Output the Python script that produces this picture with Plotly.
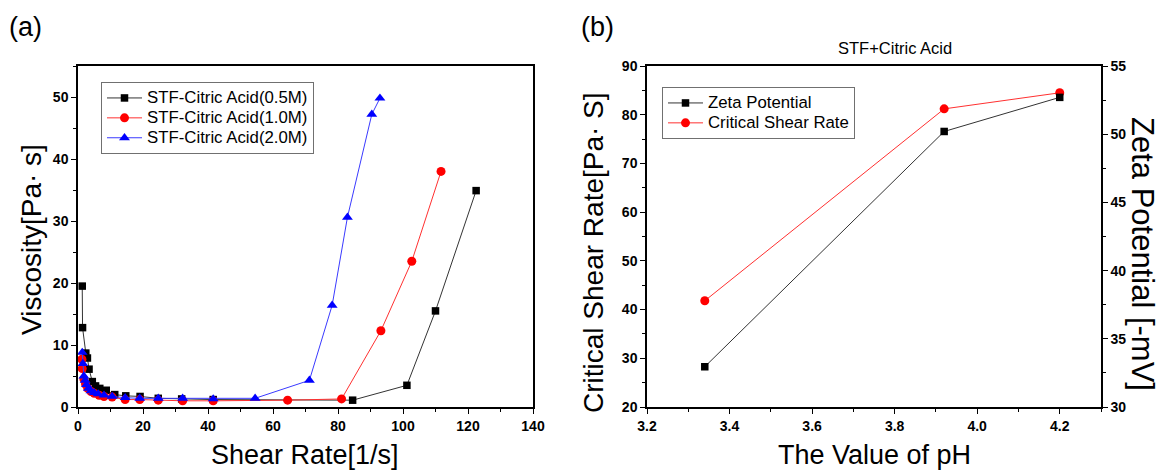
import plotly.graph_objects as go

W, H = 1165, 472

# ---- Panel (a): viscosity vs shear rate ----
rate_05 = [1.3, 1.4, 2.4, 2.9, 3.4, 4.4, 5.4, 6.7, 8.7, 11.3, 14.7, 19.1, 24.7, 31.9, 41.6,
           84.5, 101.2, 110.0, 122.5]
visc_05 = [19.5, 12.8, 8.7, 7.9, 6.1, 4.1, 3.4, 3.0, 2.7, 2.0, 1.8, 1.7, 1.4, 1.3, 1.2,
           1.1, 3.5, 15.5, 34.9]

rate_10 = [1.2, 1.3, 1.8, 2.3, 3.0, 4.0, 5.0, 6.5, 8.0, 10.5, 14.5, 19.0, 24.7, 32.2, 41.6,
           64.5, 81.1, 93.2, 102.7, 111.7]
visc_10 = [7.7, 6.2, 4.5, 3.7, 3.0, 2.5, 2.2, 1.9, 1.7, 1.6, 1.2, 1.2, 1.1, 1.0, 1.0,
           1.1, 1.3, 12.3, 23.5, 38.0]

rate_20 = [1.3, 1.5, 1.8, 2.2, 2.6, 3.2, 4.0, 5.0, 6.2, 8.0, 10.5, 14.5, 19.0, 24.7, 32.2,
           41.6, 54.5, 71.2, 78.2, 82.9, 90.4, 92.9]
visc_20 = [8.8, 7.0, 5.0, 4.3, 3.6, 3.0, 2.6, 2.3, 2.1, 1.9, 1.7, 1.5, 1.4, 1.4, 1.4,
           1.3, 1.4, 4.3, 16.4, 30.6, 47.2, 49.8]

# ---- Panel (b): pH dependence ----
ph = [3.34, 3.92, 4.20]
zeta_potential = [32.95, 50.2, 52.7]
critical_rate = [41.8, 81.2, 84.5]

# ---- tick positions / labels ----
shear_ticks = [0, 20, 40, 60, 80, 100, 120, 140]
visc_ticks = [0, 10, 20, 30, 40, 50]
ph_ticks = [3.2, 3.4, 3.6, 3.8, 4.0, 4.2]
ph_tick_labels = ["3.2", "3.4", "3.6", "3.8", "4.0", "4.2"]
rate_ticks = [20, 30, 40, 50, 60, 70, 80, 90]
zeta_ticks = [30, 35, 40, 45, 50, 55]

FONT = "Liberation Sans, Arial, sans-serif"


def px_x(p):
    return p / W


def px_y(p):
    return 1 - p / H


def bold(labels):
    return [f"<b>{s}</b>" for s in labels]


def legend_name(s):
    return f'<span style="font-size:16.8px">{s}</span>'


fig = go.Figure()

series_a = [
    ("STF-Citric Acid(0.5M)", rate_05, visc_05, "black", "#333333", "square", 7.5),
    ("STF-Citric Acid(1.0M)", rate_10, visc_10, "#ff0000", "#ff3030", "circle", 9),
    ("STF-Citric Acid(2.0M)", rate_20, visc_20, "#0000ff", "#3a3aff", "triangle-up", 9.5),
]
for name, xs, ys, mc, lc, sym, sz in series_a:
    fig.add_trace(go.Scatter(
        x=xs, y=ys, name=legend_name(name), mode="lines+markers",
        line=dict(color=lc, width=1),
        marker=dict(color=mc, symbol=sym, size=sz, line=dict(width=0)),
        xaxis="x", yaxis="y", legend="legend",
    ))

fig.add_trace(go.Scatter(
    x=ph, y=zeta_potential, name=legend_name("Zeta Potential"), mode="lines+markers",
    line=dict(color="#333333", width=1),
    marker=dict(color="black", symbol="square", size=7.5, line=dict(width=0)),
    xaxis="x2", yaxis="y3", legend="legend2",
))
fig.add_trace(go.Scatter(
    x=ph, y=critical_rate, name=legend_name("Critical Shear Rate"), mode="lines+markers",
    line=dict(color="#ff3030", width=1),
    marker=dict(color="#ff0000", symbol="circle", size=9, line=dict(width=0)),
    xaxis="x2", yaxis="y2", legend="legend2",
))

tickfont = dict(family=FONT, size=14, color="black")
axis_common = dict(
    showline=True, linecolor="black", linewidth=1.5, automargin=False,
    ticks="outside", ticklen=5, tickwidth=1.2, tickcolor="black",
    showgrid=False, zeroline=False, tickfont=tickfont, tickmode="array",
)


def minor(step):
    return dict(ticks="outside", ticklen=3, tickmode="linear", dtick=step, tickcolor="black",
                tickwidth=1.2, showgrid=False)


ydom = [px_y(407), px_y(66)]

fig.update_layout(
    template="none",
    width=W, height=H,
    margin=dict(l=0, r=0, t=0, b=0, pad=0),
    paper_bgcolor="white", plot_bgcolor="white",
    showlegend=True,
    xaxis=dict(domain=[px_x(78), px_x(533)], range=[0, 140], anchor="y", mirror=True,
               tickvals=shear_ticks, ticktext=bold(shear_ticks),
               minor=minor(10), **axis_common),
    yaxis=dict(domain=ydom, range=[0, 55], anchor="x", mirror=True,
               tickvals=visc_ticks, ticktext=bold(visc_ticks),
               minor=minor(5), **axis_common),
    xaxis2=dict(domain=[px_x(647), px_x(1101)], range=[3.2, 4.3], anchor="y2", mirror=True,
                tickvals=ph_ticks, ticktext=bold(ph_tick_labels),
                minor=minor(0.1), **axis_common),
    yaxis2=dict(domain=ydom, range=[20, 90], anchor="x2",
                tickvals=rate_ticks, ticktext=bold(rate_ticks),
                minor=minor(5), **axis_common),
    yaxis3=dict(domain=ydom, range=[30, 55], anchor="x2", overlaying="y2", side="right",
                tickvals=zeta_ticks, ticktext=bold(zeta_ticks),
                minor=minor(2.5), **axis_common),
    legend=dict(x=px_x(101), y=px_y(82), xanchor="left", yanchor="top",
                bgcolor="white", bordercolor="#707070", borderwidth=1,
                font=dict(family=FONT, size=13, color="black"),
                tracegroupgap=0, itemwidth=35),
    legend2=dict(x=px_x(662), y=px_y(87), xanchor="left", yanchor="top",
                 bgcolor="white", bordercolor="#707070", borderwidth=1,
                 font=dict(family=FONT, size=13, color="black"),
                 tracegroupgap=0, itemwidth=35),
)

texts = [
    ("(a)", 25, 27, 27, 0),
    ("(b)", 597, 27, 27, 0),
    ("STF+Citric Acid", 895, 48, 16.5, 0),
    ("Viscosity[Pa· s]", 31, 240, 28, -90),
    ("Shear Rate[1/s]", 305, 455, 27, 0),
    ("Critical Shear Rate[Pa· S]", 593, 253, 28, -90),
    ("Zeta Potential [-mV]", 1143, 254, 31, 90),
    ("The Value of pH", 874, 455, 27, 0),
]
for txt, x, y, size, ang in texts:
    fig.add_annotation(text=txt, x=px_x(x), y=px_y(y), xref="paper", yref="paper",
                       xanchor="center", yanchor="middle", showarrow=False, textangle=ang,
                       font=dict(family=FONT, size=size, color="black"))

fig.write_html("out.html")
